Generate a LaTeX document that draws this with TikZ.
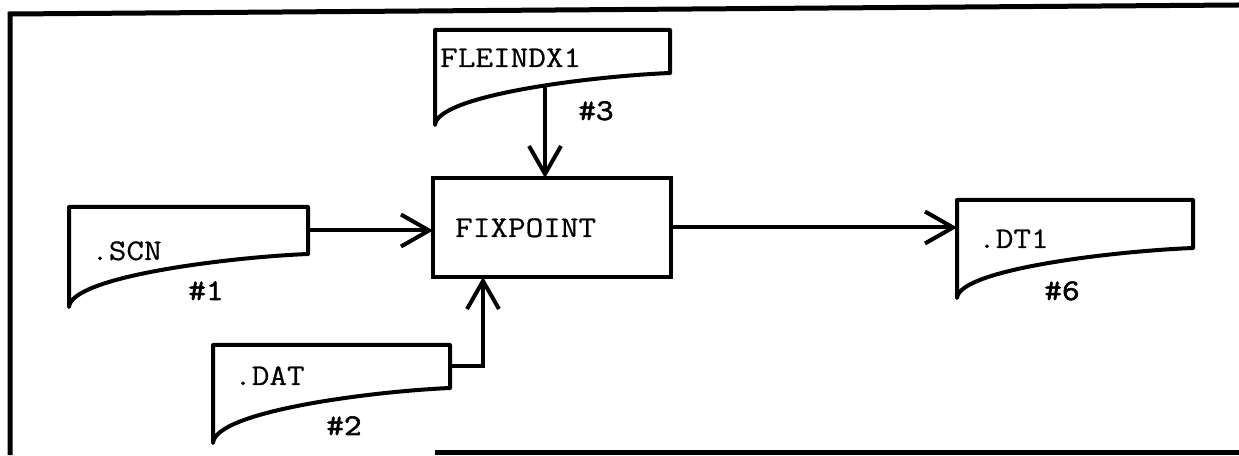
\documentclass[tikz,border=0pt]{standalone}
\usepackage{fontspec}
\newfontfamily\docfont[FakeStretch=1.14,FakeBold=0.6]{Latin Modern Mono}
\newfontfamily\hashfont[FakeStretch=1.14,FakeBold=2]{Latin Modern Mono}
\usetikzlibrary{arrows.meta,calc}
\newcommand\docoutline[3]{%
  \draw[docline] (#1.south east) -- (#1.north east) -- (#1.north west)
    -- ([yshift=-#3]#1.south west)
    .. controls +({0.01*#2},{0.58*#3}) and ([shift={({-0.325*#2},{-0.06*#3})}]#1.south east)
    .. (#1.south east);}
\begin{document}
\begin{tikzpicture}[x=1pt,y=1pt,
  every node/.style={font=\docfont\fontsize{30}{32}\selectfont},
  docnode/.style={draw=none,inner sep=0pt,outer sep=0pt,anchor=north west},
  docline/.style={line width=4pt,line join=round,line cap=round},
  procbox/.style={draw,line width=4pt,inner sep=0pt,outer sep=0pt,anchor=north west,
    minimum width=238pt,minimum height=99pt},
  arr/.style={line width=4pt,-{Straight Barb[length=28pt,width=32pt,line width=4pt]}},
  txt/.style={anchor=base west,inner sep=0pt},
  hashlbl/.style={anchor=base,inner sep=0pt,font=\hashfont\fontsize{30}{32}\selectfont},
  frameline/.style={line width=5pt}]
\useasboundingbox (0,0) rectangle (1239,455);
\fill[white] (0,0) rectangle (1239,455);
% frame
\draw[frameline] (10,0) -- (10,441) -- (1239,450);
\draw[frameline] (435,3) -- (1239,3);
% documents
\node[docnode,minimum width=235pt,minimum height=43pt] (fle) at (435,425) {};
\node[docnode,minimum width=239pt,minimum height=47pt] (scn) at (69,248) {};
\node[docnode,minimum width=237pt,minimum height=43pt] (dat) at (213,110) {};
\node[docnode,minimum width=236pt,minimum height=48pt] (dt1) at (957,255) {};
\docoutline{fle}{235}{52}
\docoutline{scn}{239}{53}
\docoutline{dat}{237}{55}
\docoutline{dt1}{236}{50}
% process box
\node[procbox] (fix) at (433,277) {};
% texts
\node[txt] (fletxt) at (440,388) {FLEINDX1};
\node[txt] (fixtxt) at (455,218) {FIXPOINT};
\node[txt] (scntxt) at (91,195) {.SCN};
\node[txt] (dattxt) at (234,70) {.DAT};
\node[txt] (dt1txt) at (978,207) {.DT1};
\node[hashlbl] (h3) at (596,335) {\#3};
\node[hashlbl] (h1) at (206,155) {\#1};
\node[hashlbl] (h2) at (344,20) {\#2};
\node[hashlbl] (h6) at (1062,155) {\#6};
% connectors
\coordinate (fleout) at ($(fle.south west)+(110,-14)$);
\coordinate (fixin) at ($(fix.south west)+(50,0)$);
\draw[arr] (fleout) -- (fleout |- fix.north);
\draw[arr] (scn.east) -- (scn.east -| fix.west);
\draw[arr] (dat.east) -| (fixin);
\draw[arr] (fix.east) -- (fix.east -| dt1.west);
\end{tikzpicture}
\end{document}
